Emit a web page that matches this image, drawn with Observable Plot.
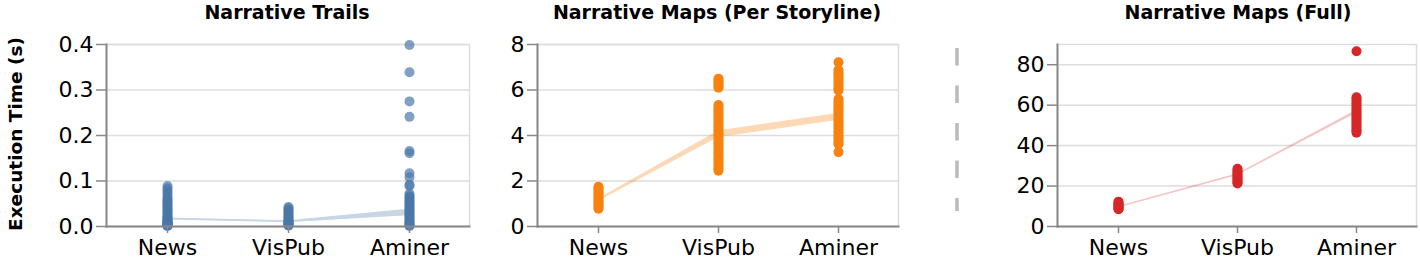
<!DOCTYPE html>
<html>
<head>
<meta charset="utf-8">
<script src="https://cdn.jsdelivr.net/npm/d3@7"></script>
<script src="https://cdn.jsdelivr.net/npm/@observablehq/plot@0.6"></script>
<style>
  html, body { margin: 0; padding: 0; background: #fff; }
  #wrap { position: relative; width: 1420px; height: 265px; overflow: hidden; font-family: "DejaVu Sans", sans-serif; }
  .panel { position: absolute; top: 0; }
  #overlay { position: absolute; left: 0; top: 0; pointer-events: none; }
</style>
</head>
<body>
<div id="wrap"></div>
<script>
// ---- categories ----
const datasets = ["News", "VisPub", "Aminer"];

// ---- Narrative Trails (seconds) ----
const trailsNews = [0.089, 0.084, 0.079, 0.074, 0.069, 0.064, 0.060, 0.056, 0.053, 0.050, 0.047, 0.044, 0.041, 0.038, 0.035, 0.032, 0.029, 0.026, 0.023, 0.021, 0.019, 0.017, 0.015, 0.013, 0.011, 0.010, 0.009, 0.008, 0.007, 0.006, 0.005, 0.004, 0.003, 0.002, 0.002, 0.001];
const trailsVisPub = [0.043, 0.040, 0.037, 0.034, 0.031, 0.028, 0.025, 0.022, 0.019, 0.016, 0.014, 0.012, 0.010, 0.008, 0.007, 0.006, 0.005, 0.004, 0.003, 0.002];
const trailsAminer = [0.399, 0.339, 0.275, 0.241, 0.166, 0.161, 0.117, 0.108, 0.092, 0.089, 0.072, 0.068, 0.065, 0.062, 0.058, 0.055, 0.052, 0.049, 0.046, 0.043, 0.040, 0.037, 0.034, 0.031, 0.028, 0.025, 0.022, 0.019, 0.016, 0.013, 0.010, 0.008, 0.006, 0.004, 0.002, 0.001];
const trailsBandLo = [0.0155, 0.0095, 0.025];
const trailsBandHi = [0.0175, 0.0115, 0.037];

// ---- Narrative Maps (Per Storyline) (seconds) ----
const perNews = [1.75, 1.68, 1.60, 1.52, 1.45, 1.38, 1.30, 1.22, 1.15, 1.08, 1.00, 0.93, 0.85, 0.78];
const perVisPub = [6.50, 6.42, 6.33, 6.25, 6.17, 6.10, 5.34, 5.25, 5.15, 5.05, 4.95, 4.85, 4.75, 4.65, 4.55, 4.45, 4.35, 4.25, 4.15, 4.05, 3.95, 3.85, 3.75, 3.65, 3.55, 3.45, 3.35, 3.25, 3.15, 3.05, 2.95, 2.85, 2.75, 2.65, 2.55, 2.45];
const perAminer = [7.22, 6.88, 6.78, 6.68, 6.58, 6.48, 6.38, 6.28, 6.18, 6.08, 5.98, 5.60, 5.50, 5.40, 5.30, 5.20, 5.10, 5.00, 4.90, 4.80, 4.70, 4.60, 4.50, 4.40, 4.30, 4.20, 4.10, 4.00, 3.90, 3.80, 3.70, 3.62, 3.27];
const perBandLo = [1.13, 3.93, 4.69];
const perBandHi = [1.19, 4.18, 4.95];

// ---- Narrative Maps (Full) (seconds) ----
const fullNews = [12.3, 11.8, 11.2, 10.7, 10.2, 9.7, 9.2, 8.8, 8.5];
const fullVisPub = [28.5, 27.8, 27.0, 26.2, 25.5, 24.8, 24.0, 23.3, 22.5, 21.8, 21.3];
const fullAminer = [86.7, 63.9, 63.0, 62.0, 61.0, 60.0, 59.0, 58.0, 57.0, 56.0, 55.0, 54.0, 53.0, 52.0, 51.0, 50.0, 49.0, 48.0, 47.2, 46.4];
const fullBandLo = [9.4, 25.4, 56.2];
const fullBandHi = [9.7, 25.8, 57.2];

// ---- ticks ----
const trailsTicks = [0, 0.1, 0.2, 0.3, 0.4];
const perTicks = [0, 2, 4, 6, 8];
const fullTicks = [0, 20, 40, 60, 80];

// ---- titles ----
const titles = ["Narrative Trails", "Narrative Maps (Per Storyline)", "Narrative Maps (Full)"];
const yTitle = "Execution Time (s)";

function panel({series, lo, hi, color, dotOpacity, bandOpacity, bandStroke, domain, ticks, fmt, width, marginLeft, marginRight}) {
  const points = datasets.flatMap((d, i) => series[i].map(v => ({dataset: d, value: v})));
  const band = datasets.map((d, i) => ({dataset: d, lo: lo[i], hi: hi[i]}));
  return Plot.plot({
    width, height: 265,
    marginLeft, marginRight, marginTop: 44, marginBottom: 39,
    x: {type: "point", domain: datasets, padding: 0.5, label: null},
    y: {domain, label: null},
    style: {fontFamily: "DejaVu Sans, sans-serif", fontSize: "22px", color: "black", background: "transparent", overflow: "visible"},
    marks: [
      Plot.gridY(ticks, {stroke: "#ddd", strokeOpacity: 1, strokeWidth: 1.5}),
      Plot.frame({stroke: "#ddd", strokeWidth: 1.5}),
      Plot.areaY(band, {x: "dataset", y1: "lo", y2: "hi", fill: color, stroke: color, strokeWidth: bandStroke, opacity: bandOpacity}),
      Plot.dot(points, {x: "dataset", y: "value", r: 5, fill: color, fillOpacity: dotOpacity, stroke: "none"}),
      Plot.frame({anchor: "left", stroke: "#888", strokeWidth: 2}),
      Plot.frame({anchor: "bottom", stroke: "#888", strokeWidth: 2}),
      Plot.axisY(ticks, {tickSize: 10, tickPadding: 3, fontSize: 22, stroke: "#888", strokeWidth: 1.5, fill: "black", tickFormat: fmt, label: null}),
      Plot.axisX({tickSize: 7, tickPadding: 6, fontSize: 22, stroke: "#888", strokeWidth: 1.5, fill: "black", label: null})
    ]
  });
}

const wrap = document.getElementById("wrap");

const p1 = panel({series: [trailsNews, trailsVisPub, trailsAminer], lo: trailsBandLo, hi: trailsBandHi,
  color: "#4c78a8", dotOpacity: 0.7, bandOpacity: 0.3, bandStroke: 1, domain: [0, 0.4], ticks: trailsTicks, fmt: d3.format(".1f"),
  width: 480, marginLeft: 106, marginRight: 11});
const p2 = panel({series: [perNews, perVisPub, perAminer], lo: perBandLo, hi: perBandHi,
  color: "#f8820f", dotOpacity: 1, bandOpacity: 0.3, bandStroke: 1, domain: [0, 8], ticks: perTicks, fmt: d3.format("d"),
  width: 430, marginLeft: 57, marginRight: 12});
const p3 = panel({series: [fullNews, fullVisPub, fullAminer], lo: fullBandLo, hi: fullBandHi,
  color: "#d62728", dotOpacity: 1, bandOpacity: 0.28, bandStroke: 0.8, domain: [0, 90], ticks: fullTicks, fmt: d3.format("d"),
  width: 510, marginLeft: 147, marginRight: 4});

[[p1, 0], [p2, 480], [p3, 910]].forEach(([p, left]) => {
  p.classList.add("panel");
  p.style.left = left + "px";
  wrap.appendChild(p);
});

// overlay: titles, y-axis title, dashed separator
const svg = d3.select(wrap).append("svg")
  .attr("id", "overlay").attr("width", 1420).attr("height", 265)
  .style("font-family", "DejaVu Sans, sans-serif");

const titleX = [287, 717, 1238];
svg.selectAll("text.title").data(titles).join("text")
  .attr("class", "title")
  .attr("x", (d, i) => titleX[i]).attr("y", 18.5)
  .attr("text-anchor", "middle")
  .attr("font-weight", "bold").attr("font-size", 19)
  .text(d => d);

svg.append("text")
  .attr("transform", "translate(21.5,134) rotate(-90)")
  .attr("text-anchor", "middle")
  .attr("font-weight", "bold").attr("font-size", 18.5)
  .text(yTitle);

svg.append("line")
  .attr("x1", 957).attr("x2", 957).attr("y1", 48).attr("y2", 211)
  .attr("stroke", "#bbb").attr("stroke-width", 3.5)
  .attr("stroke-dasharray", "17.5 20");
</script>
</body>
</html>
